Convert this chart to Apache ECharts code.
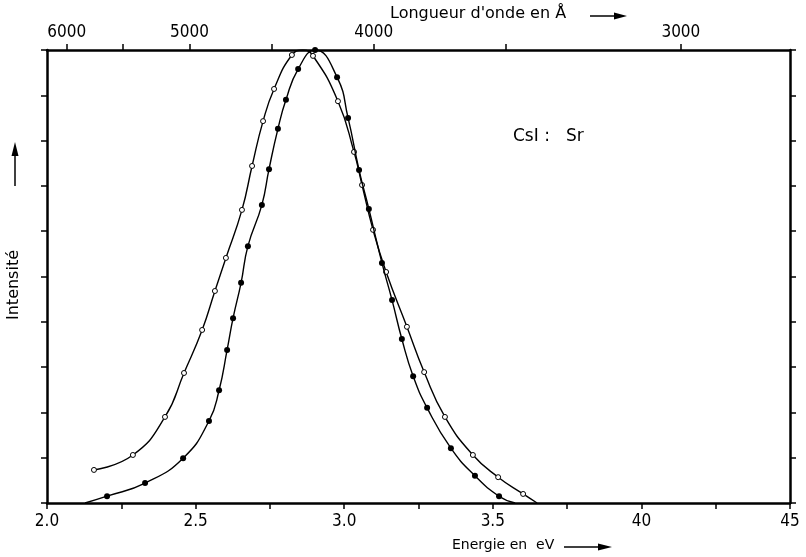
<!DOCTYPE html>
<html>
<head>
<meta charset="utf-8">
<script src="https://cdn.jsdelivr.net/npm/echarts@6/dist/echarts.min.js"></script>
<style>
html,body{margin:0;padding:0;background:#fff;}
#chart{width:806px;height:557px;}
</style>
</head>
<body>
<div id="chart"></div>
<script>
// ---- Data ----
const energyLabelValues = [2.0, 2.5, 3.0, 3.5, 4.0, 4.5];
const energyLabels = ["2.0", "2.5", "3.0", "3.5", "40", "45"];
const wavelengthTicks = [6000, 5500, 5000, 4500, 4000, 3500, 3000];
const wavelengthLabels = [6000, 5000, 4000, 3000];

// open circles
const openEnergy    = [2.158, 2.289, 2.397, 2.461, 2.522, 2.565, 2.602, 2.656, 2.690, 2.727, 2.764, 2.824, 2.861, 2.895, 2.979, 3.033, 3.060, 3.097, 3.141, 3.211, 3.269, 3.339, 3.433, 3.518, 3.602, 3.649];
const openIntensity = [0.73, 1.06, 1.90, 2.87, 3.82, 4.68, 5.41, 6.47, 7.44, 8.43, 9.14, 9.89, 10.0, 9.87, 8.87, 7.75, 7.02, 6.03, 5.10, 3.89, 2.89, 1.90, 1.06, 0.57, 0.20, 0.0];
const openMarked    = [1, 1, 1, 1, 1, 1, 1, 1, 1, 1, 1, 1, 0, 1, 1, 1, 1, 1, 1, 1, 1, 1, 1, 1, 1, 0];

// filled circles
const filledEnergy    = [2.128, 2.202, 2.330, 2.458, 2.545, 2.579, 2.606, 2.626, 2.653, 2.676, 2.723, 2.747, 2.777, 2.804, 2.845, 2.902, 2.976, 3.013, 3.050, 3.083, 3.127, 3.161, 3.194, 3.232, 3.279, 3.359, 3.440, 3.521, 3.575];
const filledIntensity = [0.0, 0.15, 0.44, 0.99, 1.81, 2.49, 3.38, 4.08, 4.86, 5.67, 6.58, 7.37, 8.26, 8.90, 9.58, 10.0, 9.40, 8.50, 7.35, 6.49, 5.30, 4.48, 3.62, 2.80, 2.10, 1.21, 0.60, 0.15, 0.0];
const filledMarked    = [0, 1, 1, 1, 1, 1, 1, 1, 1, 1, 1, 1, 1, 1, 1, 1, 1, 1, 1, 1, 1, 1, 1, 1, 1, 1, 1, 1, 0];

const HC = 12398.4; // eV·Å, wavelength <-> energy conversion for the top axis

function buildData(es, is, ms) {
  return es.map((e, i) => ms[i] ? [e, is[i]] : { value: [e, is[i]], symbol: 'none' });
}

const FONT = '"DejaVu Sans Condensed", "Liberation Sans Narrow", "DejaVu Sans", sans-serif';
const TFONT = '"DejaVu Sans", sans-serif';
const axisLineStyle = { color: '#000', width: 2.5 };
const tickStyle = { color: '#000', width: 1.5 };

const chart = echarts.init(document.getElementById('chart'), null, { renderer: 'canvas' });

chart.setOption({
  backgroundColor: '#fff',
  animation: false,
  grid: { left: 47, right: 16, top: 50, bottom: 54 },
  xAxis: [
    {
      type: 'value', position: 'bottom', min: 2, max: 4.5, interval: 0.25,
      axisLine: { show: true, onZero: false, lineStyle: axisLineStyle },
      axisTick: { show: true, inside: false, length: 6, lineStyle: tickStyle },
      splitLine: { show: false },
      axisLabel: {
        customValues: energyLabelValues,
        margin: 10, color: '#000', fontFamily: FONT, fontSize: 17,
        formatter: v => {
          const k = energyLabelValues.findIndex(x => Math.abs(x - v) < 1e-6);
          return k >= 0 ? energyLabels[k] : '';
        }
      }
    },
    {
      type: 'value', position: 'top', min: 2, max: 4.5,
      axisLine: { show: true, onZero: false, lineStyle: axisLineStyle },
      axisTick: { show: true, inside: false, length: 6, lineStyle: tickStyle,
        customValues: wavelengthTicks.map(l => HC / l) },
      splitLine: { show: false },
      axisLabel: {
        customValues: wavelengthLabels.map(l => HC / l),
        margin: 9, color: '#000', fontFamily: FONT, fontSize: 17,
        formatter: v => String(Math.round(HC / v / 100) * 100)
      }
    }
  ],
  yAxis: [
    {
      type: 'value', position: 'left', min: 0, max: 10, interval: 1,
      axisLine: { show: true, onZero: false, lineStyle: axisLineStyle },
      axisTick: { show: true, inside: false, length: 6, lineStyle: tickStyle },
      axisLabel: { show: false }, splitLine: { show: false }
    },
    {
      type: 'value', position: 'right', min: 0, max: 10, interval: 1,
      axisLine: { show: true, onZero: false, lineStyle: axisLineStyle },
      axisTick: { show: true, inside: false, length: 6, lineStyle: tickStyle },
      axisLabel: { show: false }, splitLine: { show: false }
    }
  ],
  series: [
    {
      name: 'open', type: 'line', xAxisIndex: 0, yAxisIndex: 0,
      data: buildData(openEnergy, openIntensity, openMarked),
      smooth: 0.5,
      symbol: 'circle', symbolSize: 5,
      lineStyle: { color: '#000', width: 1.4 },
      itemStyle: { color: '#fff', borderColor: '#000', borderWidth: 1 },
      z: 3
    },
    {
      name: 'filled', type: 'line', xAxisIndex: 0, yAxisIndex: 0,
      data: buildData(filledEnergy, filledIntensity, filledMarked),
      smooth: 0.5,
      symbol: 'circle', symbolSize: 6,
      lineStyle: { color: '#000', width: 1.4 },
      itemStyle: { color: '#000', borderColor: '#000', borderWidth: 0 },
      z: 4
    }
  ],
  graphic: [
    { type: 'text', left: 390, top: 6,
      style: { text: "Longueur d'onde en Å", fill: '#000', font: '16px ' + TFONT } },
    { type: 'line', shape: { x1: 590, y1: 16, x2: 618, y2: 16 }, style: { stroke: '#000', lineWidth: 1.5 } },
    { type: 'polygon', shape: { points: [[614, 12.5], [627, 16], [614, 19.5]] }, style: { fill: '#000' } },

    { type: 'text', left: 452, top: 538,
      style: { text: 'Energie en  eV', fill: '#000', font: '14px ' + TFONT } },
    { type: 'line', shape: { x1: 564, y1: 547, x2: 602, y2: 547 }, style: { stroke: '#000', lineWidth: 1.5 } },
    { type: 'polygon', shape: { points: [[598, 543.5], [612, 547], [598, 550.5]] }, style: { fill: '#000' } },

    { type: 'text', x: 22, y: 320, rotation: Math.PI / 2,
      style: { text: 'Intensité', fill: '#000', font: '16px ' + TFONT, align: 'left', verticalAlign: 'bottom' } },
    { type: 'line', shape: { x1: 15, y1: 186, x2: 15, y2: 152 }, style: { stroke: '#000', lineWidth: 1.5 } },
    { type: 'polygon', shape: { points: [[11.5, 156], [15, 142], [18.5, 156]] }, style: { fill: '#000' } },

    { type: 'text', left: 513, top: 128,
      style: { text: 'CsI :   Sr', fill: '#000', font: '17px ' + TFONT } }
  ]
});
</script>
</body>
</html>
